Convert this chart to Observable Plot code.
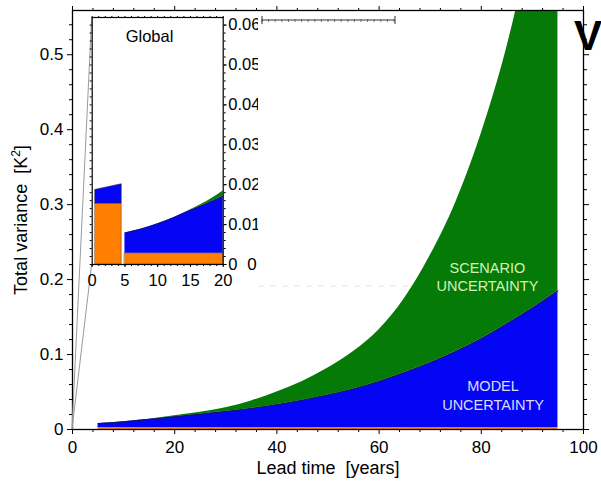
<!DOCTYPE html>
<html><head><meta charset="utf-8">
<script src="https://cdn.jsdelivr.net/npm/d3@7"></script>
<script src="https://cdn.jsdelivr.net/npm/@observablehq/plot@0.6"></script>
<style>
html,body{margin:0;padding:0;background:#fff;overflow:hidden;}
#wrap{position:relative;width:601px;height:482px;overflow:hidden;font-family:"Liberation Sans",Arial,Helvetica,sans-serif;}
#wrap svg{position:absolute;}
</style></head>
<body><div id="wrap"></div>
<script>
// ---------- main panel data (cumulative boundaries, K^2) ----------
const leadTime    = [5,10,15,20,25,30,35,40,45,50,55,60,65,70,75,80,85,90,95];
const internalTop = [0.0028,0.0028,0.0028,0.0028,0.0028,0.0028,0.0028,0.0028,0.0028,0.0028,0.0028,0.0028,0.0028,0.0028,0.0028,0.0028,0.0028,0.0028,0.0028];
const modelTop    = [0.0079,0.0102,0.0136,0.0171,0.0205,0.024,0.028,0.033,0.039,0.046,0.054,0.064,0.076,0.089,0.104,0.121,0.141,0.162,0.185];
const totalTop    = [0.0079,0.0102,0.0137,0.0184,0.023,0.029,0.038,0.050,0.064,0.082,0.104,0.133,0.175,0.232,0.303,0.395,0.51,0.66,0.84];

// ---------- inset data ----------
const decadalTime     = [0.5,4.5];
const decadalInternal = [0.0153,0.0153];
const decadalModel    = [0.0187,0.0201];
const insetTime     = [5,7.5,10,12.5,15,17.5,20];
const insetInternal = [0.0028,0.0028,0.0028,0.0028,0.0028,0.0028,0.0028];
const insetModel    = [0.0079,0.0089,0.0102,0.0118,0.0136,0.0153,0.0171];
const insetTotal    = [0.0079,0.0089,0.0102,0.0118,0.0137,0.0158,0.0184];

// ---------- ticks & labels ----------
const mainXTicks = [0,20,40,60,80,100];
const mainYTicks = [0,0.1,0.2,0.3,0.4,0.5];
const mainYTickLabels = ["0","0.1","0.2","0.3","0.4","0.5"];
const insetXTicks = [0,5,10,15,20];
const insetYTicks = [0,0.01,0.02,0.03,0.04,0.05,0.06];
const insetYTickLabels = ["0","0.01","0.02","0.03","0.04","0.05","0.06"];
const scenarioLabel = "SCENARIO\nUNCERTAINTY";
const modelLabel = "MODEL\nUNCERTAINTY";
const insetTitle = "Global";
const xTitle = "Lead time  [years]";
const yTitle = "Total variance  [K";

const ORANGE = "#ff8000", BLUE = "#0505f5", GREEN = "#067a06";
const FONT = '"Liberation Sans", Arial, Helvetica, sans-serif';

const mainRows = leadTime.map((t,i)=>({t, internal: internalTop[i], model: modelTop[i], total: totalTop[i]}));
const decRows = decadalTime.map((t,i)=>({t, internal: decadalInternal[i], model: decadalModel[i]}));
const insRows = insetTime.map((t,i)=>({t, internal: insetInternal[i], model: insetModel[i], total: insetTotal[i]}));

const range = (a,b,s)=>d3.range(a,b+1e-9,s);
const xMinor = range(0,100,4).filter(d=>d%20!==0);
const yMinor = range(0,0.54,0.02).filter(d=>Math.abs(d*10-Math.round(d*10))>1e-6);

const main = Plot.plot({
  width: 601, height: 482,
  marginLeft: 72, marginRight: 18, marginTop: 10, marginBottom: 53,
  x: {domain: [0,100]},
  y: {domain: [0,0.559]},
  style: {fontFamily: FONT, fontSize: "17px", background: "transparent", overflow: "visible", color: "black"},
  marks: [
    Plot.areaY(mainRows, {x: "t", y1: 0, y2: "internal", fill: ORANGE, curve: "monotone-x", clip: true}),
    Plot.areaY(mainRows, {x: "t", y1: "internal", y2: "model", fill: BLUE, curve: "monotone-x", clip: true}),
    Plot.areaY(mainRows, {x: "t", y1: "model", y2: "total", fill: GREEN, curve: "monotone-x", clip: true}),
    Plot.line(mainRows, {x: "t", y: "model", stroke: "#15154a", strokeWidth: 1, curve: "monotone-x", clip: true}),
    Plot.text([scenarioLabel], {x: () => 81.2, y: () => 0.204, text: d => d, fill: "#d4f2b8", fontSize: 14.5, lineHeight: 1.25}),
    Plot.text([modelLabel], {x: () => 82.3, y: () => 0.047, text: d => d, fill: "#dcdcff", fontSize: 14.5, lineHeight: 1.3}),
    Plot.axisX(mainXTicks, {anchor: "bottom", tickSize: 5, tickPadding: 6, label: null}),
    Plot.axisX(xMinor, {anchor: "bottom", tickSize: 3, fill: "none", label: null}),
    Plot.axisX(mainXTicks, {anchor: "top", tickSize: 5, fill: "none", label: null}),
    Plot.axisX(xMinor, {anchor: "top", tickSize: 3, fill: "none", label: null}),
    Plot.axisY(mainYTicks, {anchor: "left", tickSize: 5, tickPadding: 4, label: null, tickFormat: d => mainYTickLabels[mainYTicks.indexOf(d)]}),
    Plot.axisY(yMinor, {anchor: "left", tickSize: 3, fill: "none", label: null}),
    Plot.axisY(mainYTicks, {anchor: "right", tickSize: 5, fill: "none", label: null}),
    Plot.axisY(yMinor, {anchor: "right", tickSize: 3, fill: "none", label: null}),
    Plot.frame({stroke: "black", strokeWidth: 1.3})
  ]
});
main.style.left = "0px"; main.style.top = "0px";
document.getElementById("wrap").appendChild(main);

// inset placement on the page (pixels)
const IN = {left: 80, top: 5, width: 178, height: 295, mL: 11.7, mR: 35.3, mT: 12, mB: 36};

// extra decorations on main svg
const sv = d3.select(main);
const sx = main.scale("x"), sy = main.scale("y");
const ox = sx.apply(0), oy = sy.apply(0);
const cornerX = IN.left + IN.mL, cornerTop = IN.top + IN.mT, cornerBot = IN.top + IN.height - IN.mB;
[cornerTop, cornerBot].forEach(cy => {
  sv.append("line").attr("x1", ox).attr("y1", oy).attr("x2", cornerX).attr("y2", cy)
    .attr("stroke", "#9a9a9a").attr("stroke-width", 1);
});
// axis titles
sv.append("text").attr("x", 328).attr("y", 474).attr("text-anchor", "middle")
  .attr("font-size", 18).attr("fill", "black").text(xTitle);
const yt = sv.append("text").attr("transform", "translate(27,220) rotate(-90)").attr("text-anchor", "middle")
  .attr("font-size", 18).attr("fill", "black");
yt.append("tspan").text(yTitle);
yt.append("tspan").attr("dy", -7).attr("font-size", 12).text("2");
yt.append("tspan").attr("dy", 7).text("]");
// partial glyph at right edge
sv.append("text").attr("x", 588).attr("y", 50).attr("font-size", 42).attr("font-weight", "bold").attr("fill", "black").text("V");
// remnants of a covered second inset
sv.append("rect").attr("x", 258).attr("y", 22).attr("width", 152).attr("height", 264).attr("fill", "white");
sv.append("line").attr("x1", 258).attr("x2", 410).attr("y1", 286).attr("y2", 286)
  .attr("stroke", "#e4e4e4").attr("stroke-dasharray", "6,6");
sv.append("line").attr("x1", 262).attr("x2", 395).attr("y1", 20).attr("y2", 20).attr("stroke", "#333").attr("stroke-width", 1);
d3.range(262, 396, 6.6).forEach(x => sv.append("line").attr("x1", x).attr("x2", x).attr("y1", 19).attr("y2", 22).attr("stroke", "#555").attr("stroke-width", 0.8));
[262, 395].forEach(x => sv.append("line").attr("x1", x).attr("x2", x).attr("y1", 16).attr("y2", 24).attr("stroke", "#333"));
sv.append("text").attr("x", 252).attr("y", 270).attr("text-anchor", "middle").attr("font-size", 17).attr("fill", "black").text("0");

// ---------- inset ----------
const inset = Plot.plot({
  width: IN.width, height: IN.height,
  marginLeft: IN.mL, marginRight: IN.mR, marginTop: IN.mT, marginBottom: IN.mB,
  x: {domain: [0,20]},
  y: {domain: [0,0.0619]},
  style: {fontFamily: FONT, fontSize: "16.5px", background: "transparent", overflow: "hidden", color: "black"},
  marks: [
    Plot.frame({fill: "white", stroke: "none"}),
    Plot.areaY(decRows, {x: "t", y1: 0, y2: "internal", fill: ORANGE, stroke: "#7a4a20", strokeWidth: 0.6}),
    Plot.areaY(decRows, {x: "t", y1: "internal", y2: "model", fill: BLUE, stroke: "#15154a", strokeWidth: 0.6}),
    Plot.areaY(insRows, {x: "t", y1: 0, y2: "internal", fill: ORANGE, stroke: "#7a4a20", strokeWidth: 0.6}),
    Plot.areaY(insRows, {x: "t", y1: "internal", y2: "model", fill: BLUE, curve: "monotone-x"}),
    Plot.areaY(insRows, {x: "t", y1: "model", y2: "total", fill: GREEN, curve: "monotone-x"}),
    Plot.line(insRows, {x: "t", y: "model", stroke: "#15154a", strokeWidth: 0.8, curve: "monotone-x"}),
    Plot.text([insetTitle], {x: () => 8.75, y: () => 0.057, text: d => d, fontSize: 16.5, fill: "black"}),
    Plot.axisX(insetXTicks, {anchor: "bottom", tickSize: 3, tickPadding: 7, label: null}),
    Plot.axisX(range(0,20,1), {anchor: "bottom", tickSize: 2, fill: "none", label: null}),
    Plot.axisX(range(0,20,1), {anchor: "top", tickSize: 2, fill: "none", label: null}),
    Plot.axisY(insetYTicks, {anchor: "right", tickSize: 3, tickPadding: 2, label: null, tickFormat: d => insetYTickLabels[insetYTicks.indexOf(d)]}),
    Plot.axisY(range(0,0.06,0.002), {anchor: "right", tickSize: 2, fill: "none", label: null}),
    Plot.axisY(range(0,0.06,0.002), {anchor: "left", tickSize: 2, fill: "none", label: null}),
    Plot.frame({stroke: "black", strokeWidth: 1.2})
  ]
});
inset.style.left = IN.left + "px"; inset.style.top = IN.top + "px";
document.getElementById("wrap").appendChild(inset);
</script>
</body></html>
